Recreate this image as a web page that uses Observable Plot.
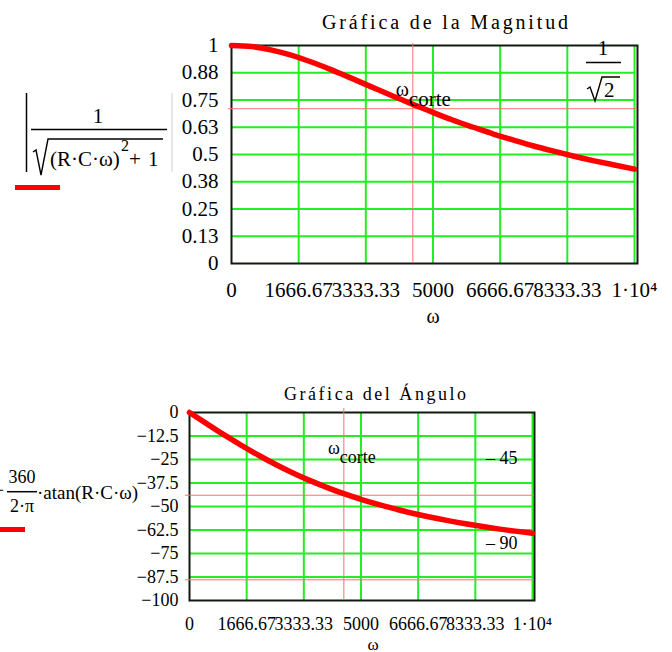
<!DOCTYPE html>
<html>
<head>
<meta charset="utf-8">
<script src="https://cdn.jsdelivr.net/npm/d3@7"></script>
<script src="https://cdn.jsdelivr.net/npm/@observablehq/plot@0.6"></script>
<style>
  html, body { margin: 0; padding: 0; background: #fff; }
  #page { position: relative; width: 672px; height: 652px; overflow: hidden; font-family: "Liberation Serif", "Times New Roman", serif; }
  #page > svg, #page > div { position: absolute; }
</style>
</head>
<body>
<div id="page"></div>
<script>
// ---- data ----
const omega      = [0, 500, 1000, 1500, 2000, 2500, 3000, 3500, 4000, 4500, 5000,
                    5500, 6000, 6500, 7000, 7500, 8000, 8500, 9000, 9500, 10000];
const magnitude  = [1.000, 0.995, 0.979, 0.955, 0.923, 0.887, 0.848, 0.808, 0.768, 0.730, 0.693,
                    0.657, 0.625, 0.594, 0.566, 0.539, 0.515, 0.492, 0.471, 0.452, 0.433];
const angleDeg   = [0, -5.9, -11.8, -17.3, -22.6, -27.5, -32.0, -36.1, -39.8, -43.2, -46.2,
                    -48.9, -51.3, -53.6, -55.6, -57.4, -59.0, -60.5, -61.9, -63.1, -64.2];

const xTickValues = [0, 1666.67, 3333.33, 5000, 6666.67, 8333.33, 10000];
const xTickLabels = ["0", "1666.67", "3333.33", "5000", "6666.67", "8333.33", "1·10⁴"];
const magTickValues = [0, 0.125, 0.25, 0.375, 0.5, 0.625, 0.75, 0.875, 1];
const magTickLabels = ["0", "0.13", "0.25", "0.38", "0.5", "0.63", "0.75", "0.88", "1"];
const angTickValues = [0, -12.5, -25, -37.5, -50, -62.5, -75, -87.5, -100];
const angTickLabels = ["0", "−12.5", "−25", "−37.5", "−50", "−62.5", "−75", "−87.5", "−100"];

const cutoffOmega = 4500;
const magMarker = 0.71;
const angMarkers = [-44, -89];
const angMarkerLabels = ["– 45", "– 90"];

const titleMag = "Gráfica de la Magnitud";
const titleAng = "Gráfica del Ángulo";
const axisLabel = "ω";

// ---- tables ----
const magData = omega.map((w, i) => ({w, v: magnitude[i]}));
const angData = omega.map((w, i) => ({w, v: angleDeg[i]}));
const fmtX = d => xTickLabels[xTickValues.indexOf(d)];
const fmtMag = d => magTickLabels[magTickValues.indexOf(d)];
const fmtAng = d => angTickLabels[angTickValues.indexOf(d)];

const GREEN = "#22ee22";
const RED = "#ff0000";
const MARK = "#ff7070";
const FRAME = "#101a10";

const page = document.getElementById("page");

// ---- magnitude chart ----
const chartMag = Plot.plot({
  width: 672, height: 330,
  marginLeft: 231, marginRight: 38, marginTop: 45, marginBottom: 67,
  x: {domain: [0, 10000]},
  y: {domain: [0, 1]},
  style: {fontFamily: "Liberation Serif", fontSize: "21px", background: "transparent", color: "#000", overflow: "visible"},
  marks: [
    Plot.ruleX(xTickValues.filter(d => d > 0), {stroke: GREEN, strokeWidth: 2}),
    Plot.ruleY(magTickValues.filter(d => d > 0 && d < 1), {stroke: GREEN, strokeWidth: 2}),
    Plot.frame({stroke: FRAME, strokeWidth: 2, insetRight: -3}),
    Plot.ruleY([magMarker], {stroke: MARK, strokeWidth: 1, insetLeft: -3, insetRight: -3}),
    Plot.ruleX([cutoffOmega], {stroke: MARK, strokeWidth: 1, insetTop: -2}),
    Plot.line(magData, {x: "w", y: "v", stroke: RED, strokeWidth: 5.5, curve: "natural"}),
    Plot.axisX({ticks: xTickValues, tickFormat: fmtX, tickSize: 0, tickPadding: 19, label: null}),
    Plot.axisY({ticks: magTickValues, tickFormat: fmtMag, tickSize: 0, tickPadding: 13, label: null}),
    Plot.text([axisLabel], {frameAnchor: "bottom", dy: 59, text: d => d, fontSize: 20}),
    Plot.text([cutoffOmega], {x: d => d, y: () => magMarker, text: () => "ω", textAnchor: "end", dx: -4, dy: -19, fontSize: 20}),
    Plot.text([cutoffOmega], {x: d => d, y: () => magMarker, text: () => "corte", textAnchor: "start", dx: -4, dy: -9, fontSize: 21})
  ]
});
chartMag.style.left = "0px"; chartMag.style.top = "0px";
page.appendChild(chartMag);

// ---- angle chart ----
const chartAng = Plot.plot({
  width: 672, height: 292,
  marginLeft: 189, marginRight: 140, marginTop: 52, marginBottom: 52,
  x: {domain: [0, 10000]},
  y: {domain: [-100, 0]},
  style: {fontFamily: "Liberation Serif", fontSize: "18px", background: "transparent", color: "#000", overflow: "visible"},
  marks: [
    Plot.ruleX(xTickValues.filter(d => d > 0), {stroke: GREEN, strokeWidth: 2}),
    Plot.ruleY(angTickValues.filter(d => d < 0 && d > -100), {stroke: GREEN, strokeWidth: 2}),
    Plot.frame({stroke: FRAME, strokeWidth: 2, insetRight: -2}),
    Plot.ruleY(angMarkers, {stroke: MARK, strokeWidth: 1, insetLeft: -4, insetRight: -2}),
    Plot.ruleX([cutoffOmega], {stroke: MARK, strokeWidth: 1, insetTop: -4}),
    Plot.line(angData, {x: "w", y: "v", stroke: RED, strokeWidth: 5.5, curve: "natural"}),
    Plot.text(angMarkers, {x: () => 10000, y: d => d, text: (d, i) => angMarkerLabels[i], textAnchor: "end", dx: -15, dy: -37, fontSize: 18}),
    Plot.axisX({ticks: xTickValues, tickFormat: fmtX, tickSize: 0, tickPadding: 17, label: null}),
    Plot.axisY({ticks: angTickValues, tickFormat: fmtAng, tickSize: 0, tickPadding: 11, label: null}),
    Plot.text([axisLabel], {frameAnchor: "bottom", dx: 12, dy: 49, text: d => d, fontSize: 17}),
    Plot.text([cutoffOmega], {x: d => d, y: () => angMarkers[0], text: () => "ω", textAnchor: "end", dx: -4, dy: -47, fontSize: 18}),
    Plot.text([cutoffOmega], {x: d => d, y: () => angMarkers[0], text: () => "corte", textAnchor: "start", dx: -4, dy: -38, fontSize: 18})
  ]
});
chartAng.style.left = "0px"; chartAng.style.top = "360px";
page.appendChild(chartAng);

// ---- overlay: titles, legend formulas, 1/sqrt(2) ----
const ov = d3.select(page).append("svg")
  .attr("width", 672).attr("height", 652)
  .style("left", "0px").style("top", "0px")
  .style("font-family", "Liberation Serif, Times New Roman, serif")
  .style("pointer-events", "none");

function txt(x, y, s, size, anchor = "start") {
  return ov.append("text").attr("x", x).attr("y", y).attr("font-size", size)
    .attr("text-anchor", anchor).attr("fill", "#000").text(s);
}
function seg(x1, y1, x2, y2, stroke = "#000", w = 1.5) {
  ov.append("line").attr("x1", x1).attr("y1", y1).attr("x2", x2).attr("y2", y2)
    .attr("stroke", stroke).attr("stroke-width", w);
}
function radical(d) {
  ov.append("path").attr("d", d).attr("fill", "none")
    .attr("stroke", "#000").attr("stroke-width", 1.4).attr("stroke-linejoin", "miter");
}

// titles
txt(322, 29, titleMag, 20).attr("textLength", 246).attr("lengthAdjust", "spacing");
txt(284, 400, titleAng, 18).attr("textLength", 182).attr("lengthAdjust", "spacing");

// 1/sqrt(2)
txt(603, 55, "1", 21, "middle");
seg(586, 62.5, 621, 62.5);
radical("M587,89 L590,87 L595,101 L602,77 L620,77");
txt(604, 97, "2", 21);

// magnitude legend formula
seg(26.5, 93, 26.5, 172, "#000", 1.5);
seg(172, 93, 172, 172, "#cfcfcf", 1);
txt(98, 123, "1", 21, "middle");
seg(31, 129.5, 167, 129.5);
radical("M33,152 L36,150 L41,175 L48,139 L163,139");
txt(50, 166, "(R·C·ω)", 21);
txt(121, 151, "2", 16);
txt(129, 166, "+", 21);
txt(148, 166, "1", 21);
seg(15, 187.5, 60, 187.5, RED, 5);

// angle legend formula
txt(4, 496, "−", 18, "end");
txt(22, 483, "360", 18, "middle");
seg(7, 491.7, 37, 491.7);
txt(22, 512, "2·π", 18, "middle");
txt(37, 499, "·atan(R·C·ω)", 19);
seg(0, 529.5, 25, 529.5, RED, 5);
</script>
</body>
</html>
